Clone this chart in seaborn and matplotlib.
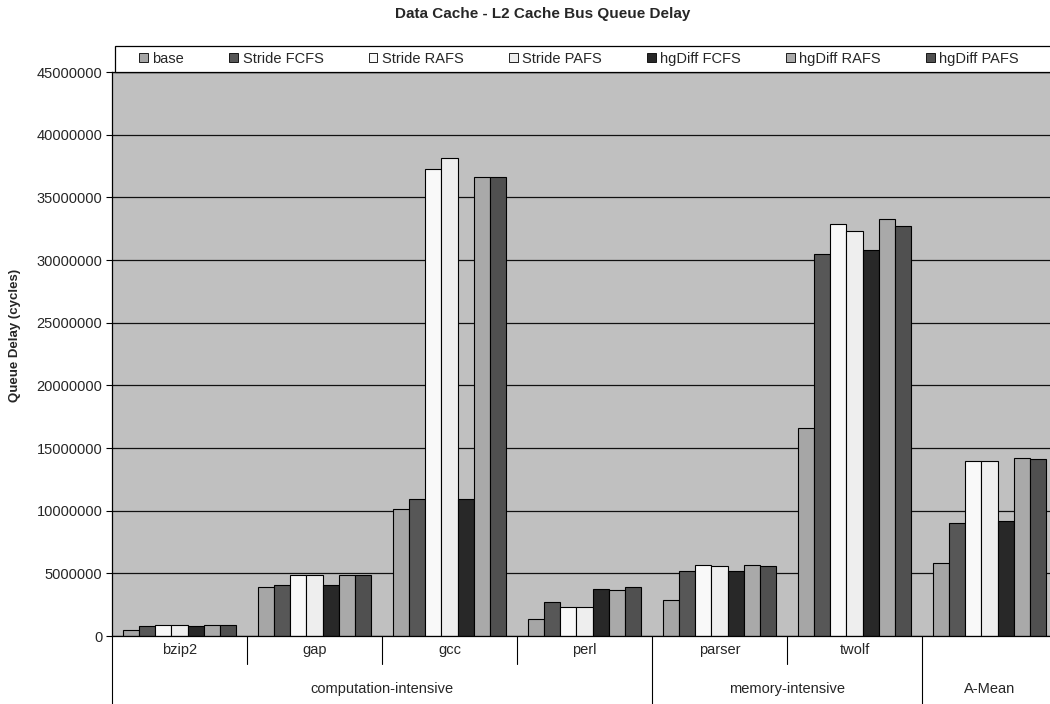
import matplotlib
matplotlib.use("Agg")
import matplotlib.pyplot as plt
import matplotlib.transforms as mtransforms
from matplotlib.patches import Patch, Rectangle
from matplotlib.lines import Line2D
import seaborn as sns
import pandas as pd

benchmarks = ["bzip2", "gap", "gcc", "perl", "parser", "twolf", "A-Mean"]
configs = ["base", "Stride FCFS", "Stride RAFS", "Stride PAFS",
           "hgDiff FCFS", "hgDiff RAFS", "hgDiff PAFS"]
base = [500000, 3900000, 10150000, 1330000, 2900000, 16600000, 5850000]
stride_fcfs = [800000, 4100000, 10900000, 2700000, 5170000, 30500000, 9000000]
stride_rafs = [900000, 4900000, 37250000, 2320000, 5650000, 32900000, 13970000]
stride_pafs = [900000, 4900000, 38100000, 2320000, 5550000, 32350000, 14000000]
hgdiff_fcfs = [800000, 4100000, 10930000, 3760000, 5170000, 30800000, 9200000]
hgdiff_rafs = [900000, 4900000, 36600000, 3650000, 5650000, 33300000, 14200000]
hgdiff_pafs = [900000, 4900000, 36600000, 3870000, 5550000, 32700000, 14100000]
groups = [("computation-intensive", 0, 3), ("memory-intensive", 4, 5), ("A-Mean", 6, 6)]
yticks = list(range(0, 45000001, 5000000))

series = [base, stride_fcfs, stride_rafs, stride_pafs, hgdiff_fcfs, hgdiff_rafs, hgdiff_pafs]
colors = ["#A6A6A6", "#575757", "#F9F9F9", "#EEEEEE", "#282828", "#A9A9A9", "#505050"]

rows = []
for cfg, vals in zip(configs, series):
    for b, v in zip(benchmarks, vals):
        rows.append({"benchmark": b, "config": cfg, "delay": v})
df = pd.DataFrame(rows)

sns.set_style("white")
plt.rcParams["font.family"] = ["Liberation Sans", "DejaVu Sans"]

fig = plt.figure(figsize=(10.5, 7.04), dpi=100)
W, H = 1050.0, 704.0
ax_left, ax_right, ax_top, ax_bot = 112, 1057, 72, 636
ax = fig.add_axes([ax_left / W, 1 - ax_bot / H, (ax_right - ax_left) / W, (ax_bot - ax_top) / H])

sns.barplot(data=df, x="benchmark", y="delay", hue="config", order=benchmarks,
            hue_order=configs, palette=colors, edgecolor="black", linewidth=0.8,
            width=0.83, ax=ax, legend=False, errorbar=None)

ax.set_facecolor("#C0C0C0")
ax.set_xlim(-0.5, len(benchmarks) - 0.5)
ax.set_ylim(0, 45000000)
ax.set_yticks(yticks)
ax.set_yticklabels([str(t) for t in yticks], fontsize=10.5)
ax.yaxis.grid(True, color="#111111", linewidth=0.9)
ax.set_axisbelow(True)
ax.tick_params(axis="y", direction="out", length=4, width=0.8, color="black", left=True, pad=3)
ax.set_xticks([])
ax.set_xlabel("")
ax.set_ylabel("")
for s in ["left", "bottom", "top", "right"]:
    ax.spines[s].set_color("black")
    ax.spines[s].set_linewidth(0.9)

# y label
fig.text(15 / W, 1 - 335 / H, "Queue Delay (cycles)", rotation=90, ha="center", va="center",
         fontsize=9.5, fontweight="bold")

# title
fig.text(543 / W, 1 - 14 / H, "Data Cache - L2 Cache Bus Queue Delay", ha="center", va="center",
         fontsize=11, fontweight="bold")

# category axis table
trans = mtransforms.blended_transform_factory(ax.transData, ax.transAxes)
axh = ax_bot - ax_top
short = 28 / axh
long_ = 70 / axh
group_edges = set()
for name, a, b in groups:
    group_edges.add(a - 0.5)
for i in range(len(benchmarks) + 1):
    xpos = i - 0.5
    depth = long_ if xpos in group_edges or i == len(benchmarks) else short
    ax.add_line(Line2D([xpos, xpos], [0, -depth], transform=trans, color="black",
                       linewidth=0.8, clip_on=False))
for i, b in enumerate(benchmarks):
    if b == "A-Mean":
        continue
    ax.text(i, -14 / axh, b, transform=trans, ha="center", va="center", fontsize=10.5)
for name, a, b in groups:
    ax.text((a + b) / 2, -53 / axh, name, transform=trans, ha="center", va="center", fontsize=10.5)

# legend frame
fig.patches.append(Rectangle((115 / W, 1 - 72 / H), 950 / W, 26 / H, transform=fig.transFigure,
                             facecolor="white", edgecolor="black", linewidth=0.9, zorder=2))
handles = [Patch(facecolor=c, edgecolor="black", linewidth=0.6) for c in colors]
leg = fig.legend(handles, configs, loc="center left", ncol=7,
                 bbox_to_anchor=(135 / W, 1 - 59 / H),
                 bbox_transform=fig.transFigure, borderaxespad=0,
                 frameon=False, fontsize=10.5, handlelength=0.6,
                 handleheight=0.6, handletextpad=0.3, borderpad=0.3, columnspacing=3.1)
leg.set_zorder(3)

fig.savefig("out.png", dpi=100, facecolor="white")
